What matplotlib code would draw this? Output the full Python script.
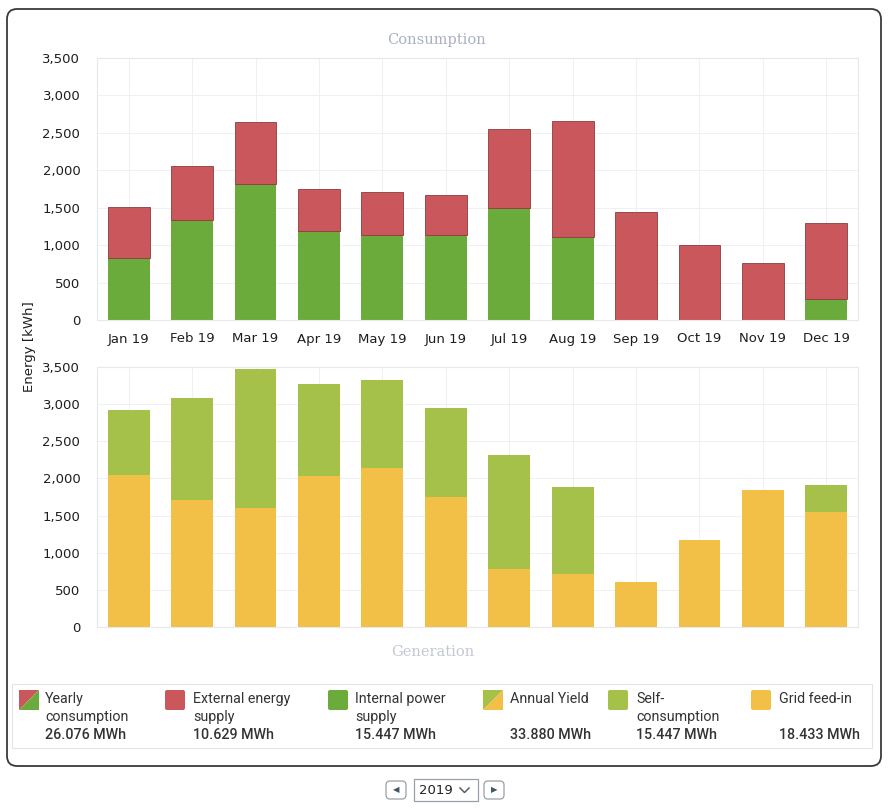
import matplotlib
matplotlib.use("Agg")

import matplotlib.pyplot as plt
from matplotlib.patches import FancyBboxPatch, Rectangle, Polygon
from matplotlib.ticker import FuncFormatter

# --- data (kWh) ---
months = ["Jan 19", "Feb 19", "Mar 19", "Apr 19", "May 19", "Jun 19",
          "Jul 19", "Aug 19", "Sep 19", "Oct 19", "Nov 19", "Dec 19"]
internal_supply = [825, 1330, 1820, 1195, 1130, 1130, 1500, 1110, 0, 0, 0, 285]
consumption_total = [1515, 2055, 2640, 1755, 1705, 1670, 2550, 2660, 1440, 1000, 760, 1300]
external_supply = [t - i for t, i in zip(consumption_total, internal_supply)]

grid_feed_in = [2050, 1715, 1600, 2030, 2135, 1745, 780, 715, 600, 1175, 1850, 1545]
yield_total = [2915, 3085, 3475, 3275, 3330, 2950, 2320, 1880, 600, 1175, 1850, 1915]
self_consumption = [t - g for t, g in zip(yield_total, grid_feed_in)]

legend_lines = [
    ["Yearly", "consumption", "26.076 MWh"],
    ["External energy", "supply", "10.629 MWh"],
    ["Internal power", "supply", "15.447 MWh"],
    ["Annual Yield", "", "33.880 MWh"],
    ["Self-", "consumption", "15.447 MWh"],
    ["Grid feed-in", "", "18.433 MWh"],
]

# colours
RED = "#c9575b"
RED_EDGE = "#8e3a3c"
GREEN = "#6aab3c"
LIME = "#a5c14a"
YELLOW = "#f2bf47"
GRID = "#eef0f5"
TICK = "#1e1e1e"
FAINT = "#aab0c4"

W, H = 889, 810
fig = plt.figure(figsize=(W / 100, H / 100), dpi=100)
fig.patch.set_facecolor("white")


def px_rect(left, top, right, bottom):
    return [left / W, 1 - bottom / H, (right - left) / W, (bottom - top) / H]


thousands = FuncFormatter(lambda v, _: f"{int(v):,}")
x = list(range(len(months)))


def style_axes(ax):
    ax.set_xlim(-0.5, len(months) - 0.5)
    ax.set_ylim(0, 3500)
    ax.set_yticks(range(0, 3501, 500))
    ax.yaxis.set_major_formatter(thousands)
    ax.grid(True, color=GRID, lw=0.7)
    ax.set_axisbelow(True)
    for s in ax.spines.values():
        s.set_color("#e6e8ee")
        s.set_linewidth(0.8)
    ax.tick_params(axis="y", length=0, pad=12, labelsize=9.5, labelcolor=TICK)
    ax.tick_params(axis="x", length=0, pad=9, labelsize=9.5, labelcolor=TICK)


# --- consumption ---
ax1 = fig.add_axes(px_rect(97, 58, 858, 320))
ax1.bar(x, internal_supply, width=0.66, color=GREEN, zorder=2)
ax1.bar(x, external_supply, width=0.66, bottom=internal_supply, color=RED,
        edgecolor=RED_EDGE, linewidth=0.6, zorder=2)
style_axes(ax1)
ax1.set_xticks(x)
ax1.set_xticklabels(months)

# --- generation ---
ax2 = fig.add_axes(px_rect(97, 367, 858, 627))
ax2.bar(x, grid_feed_in, width=0.66, color=YELLOW, zorder=2)
ax2.bar(x, self_consumption, width=0.66, bottom=grid_feed_in, color=LIME, zorder=2)
style_axes(ax2)
ax2.set_xticks(x)
ax2.set_xticklabels([])

# --- overlay in pixel coordinates for frame, titles, legend, year picker ---
ov = fig.add_axes([0, 0, 1, 1], zorder=-1)
ov.set_xlim(0, W)
ov.set_ylim(H, 0)
ov.axis("off")
ov.add_patch(FancyBboxPatch((7, 9), 874, 757, boxstyle="round,pad=0,rounding_size=10",
                            fc="white", ec="#3a3a3a", lw=1.3))

top = fig.add_axes([0, 0, 1, 1], zorder=5)
top.set_xlim(0, W)
top.set_ylim(H, 0)
top.axis("off")
top.patch.set_alpha(0)

top.text(436, 40, "Consumption", ha="center", va="center", fontsize=10.5,
         family="DejaVu Serif", color=FAINT)
top.text(433, 652, "Generation", ha="center", va="center", fontsize=10.5,
         family="DejaVu Serif", color="#c4c8d4")
top.text(30, 347, "Energy [kWh]", ha="center", va="center", rotation=90,
         fontsize=9.5, color=TICK)

# legend
top.add_patch(Rectangle((12, 684), 860, 64, fc="none", ec="#e2e4ea", lw=0.8))
sq_x = [19, 165, 328, 483, 608, 751]
txt_x = [45, 193, 355, 510, 636, 779]
swatch = [(RED, GREEN), (RED, RED), (GREEN, GREEN), (LIME, YELLOW),
          (LIME, LIME), (YELLOW, YELLOW)]
for sx, tx, (c1, c2), lines in zip(sq_x, txt_x, swatch, legend_lines):
    sy = 690
    if c1 == c2:
        top.add_patch(FancyBboxPatch((sx, sy), 20, 20,
                                     boxstyle="round,pad=0,rounding_size=2",
                                     fc=c1, ec="none"))
    else:
        top.add_patch(Polygon([(sx, sy), (sx + 20, sy), (sx, sy + 20)], closed=True,
                              fc=c1, ec="none"))
        top.add_patch(Polygon([(sx + 20, sy), (sx + 20, sy + 20), (sx, sy + 20)],
                              closed=True, fc=c2, ec="none"))
    for k, line in enumerate(lines):
        top.text(tx, 699 + k * 18, line, ha="left", va="center", fontsize=10.3,
                 family="Roboto", color="#333333",
                 fontweight="medium" if k == 2 else "normal")

# year picker
for bx, tri in ((386, "◀"), (484, "▶")):
    top.add_patch(FancyBboxPatch((bx, 781), 20, 18,
                                 boxstyle="round,pad=0,rounding_size=4",
                                 fc="white", ec="#9aa0a8", lw=0.9))
    top.text(bx + 10, 790, tri, ha="center", va="center", fontsize=6,
             color="#3d5566")
top.add_patch(Rectangle((414, 779), 64, 22, fc="white", ec="#9aa0a8", lw=0.9))
top.text(419, 790, "2019", ha="left", va="center", fontsize=9.5, color="#222222")
top.plot([460, 464.5, 469], [788, 792.5, 788], color="#556070", lw=1.1)

fig.savefig("out.png", dpi=100, facecolor="white")
